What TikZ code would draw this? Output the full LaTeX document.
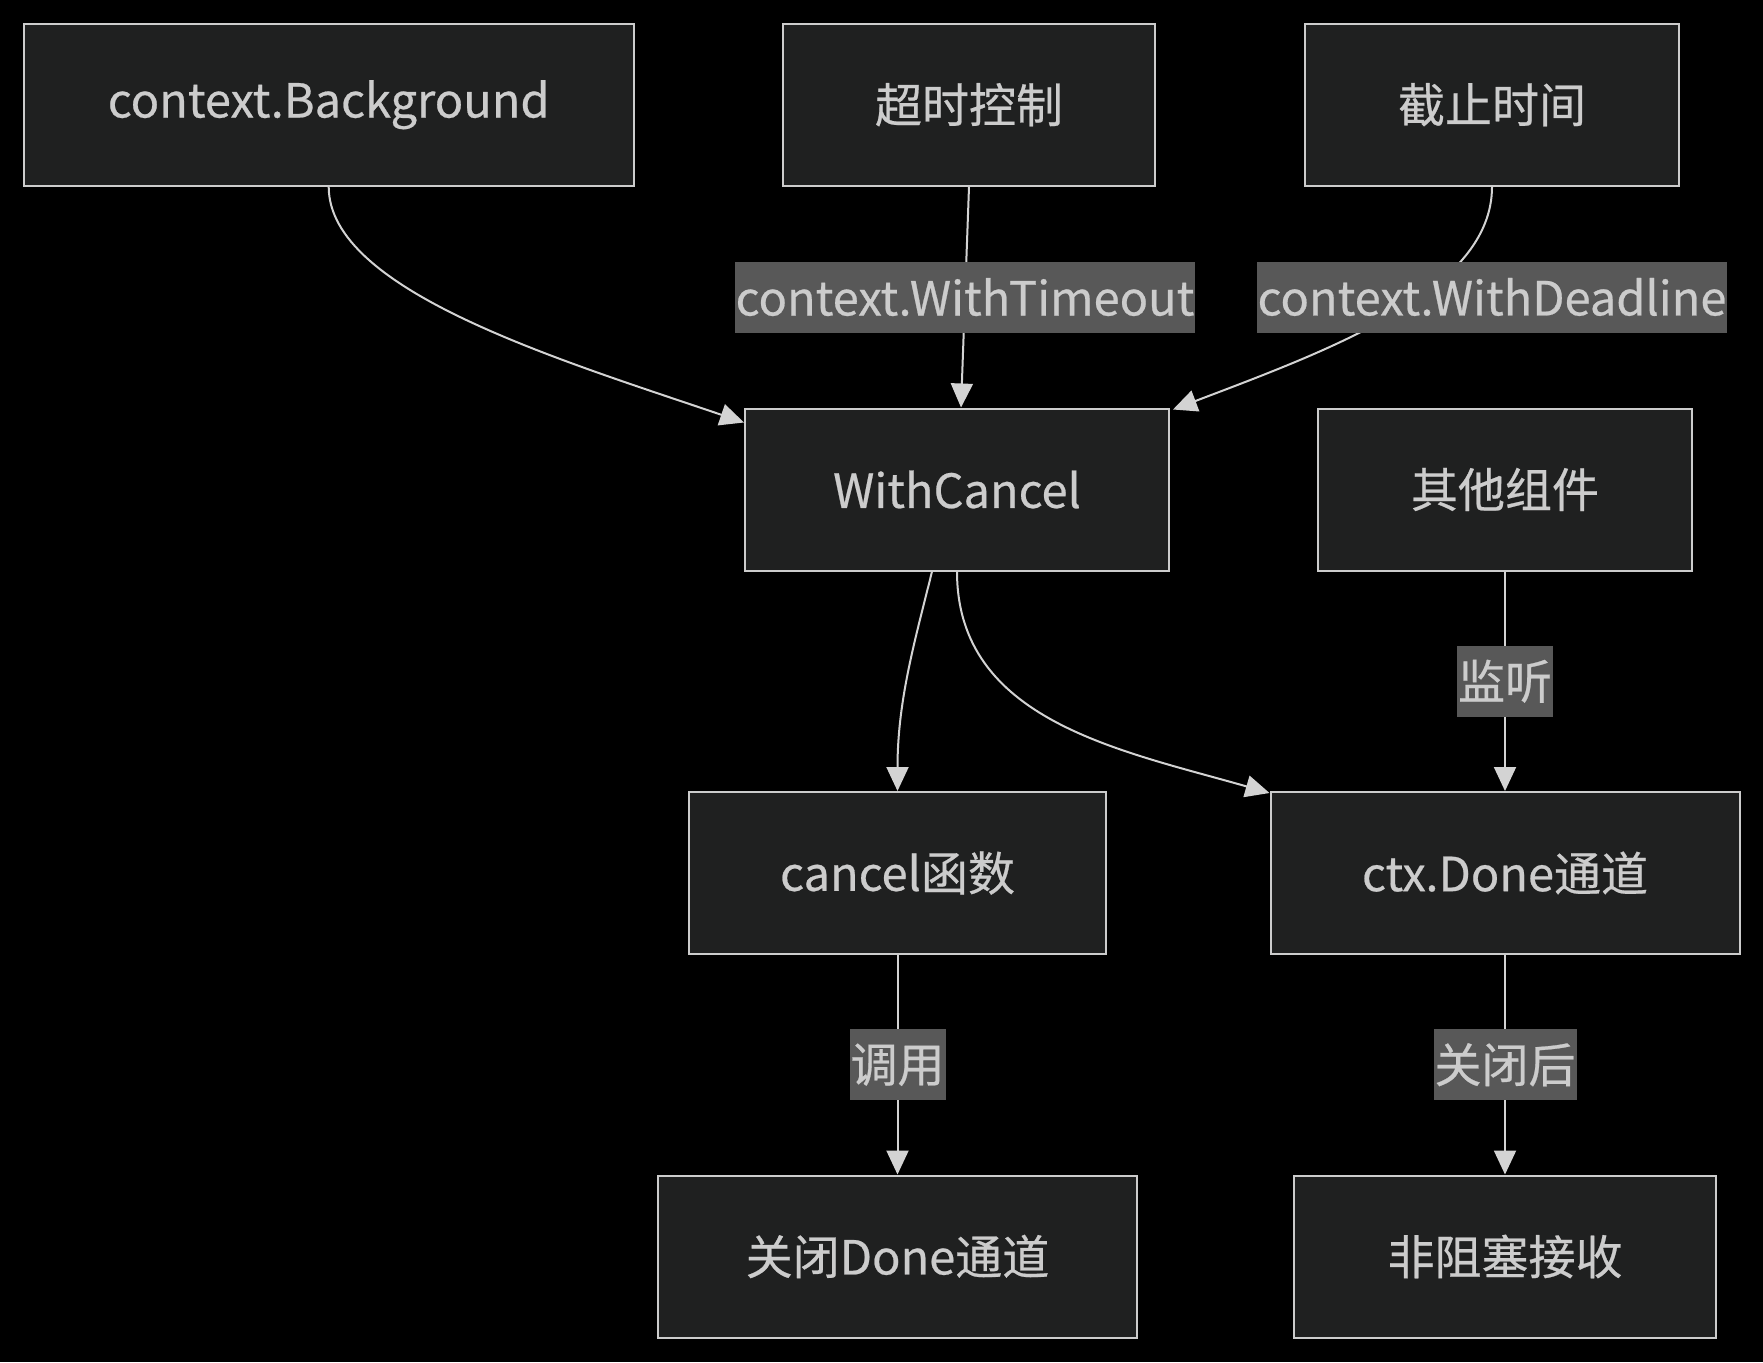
\documentclass[tikz,border=0pt]{standalone}
\usepackage{fontspec}
\setmainfont{Noto Sans CJK SC}[FakeBold=0.5]
\usetikzlibrary{arrows.meta,calc}
\definecolor{bgc}{HTML}{000000}
\definecolor{nodefill}{HTML}{1F2020}
\definecolor{nodeline}{HTML}{CCCCCC}
\definecolor{txt}{HTML}{CCCCCC}
\definecolor{lblfill}{HTML}{585858}
\definecolor{edgec}{HTML}{D3D3D3}
\begin{document}
\begin{tikzpicture}[x=1pt,y=-1pt,
  box/.style={draw=nodeline, line width=2pt, fill=nodefill, text=txt,
    minimum height=162pt, inner sep=0pt, font=\fontsize{47}{52}\selectfont},
  lbl/.style={fill=lblfill, text=txt, inner xsep=1pt, inner ysep=0pt,
    minimum height=71pt, font=\fontsize{47}{52}\selectfont},
  conn/.style={draw=edgec, line width=2pt, -{Triangle[length=24pt,width=22pt]}}]
\fill[bgc] (0,0) rectangle (1763,1362);
\useasboundingbox (0,0) rectangle (1763,1362);

\node[box, minimum width=610pt] (bg) at (328.7,104.7) {context.Background};
\node[box, minimum width=372pt] (to) at (969,104.7) {超时控制};
\node[box, minimum width=374pt] (dl) at (1492,104.7) {截止时间};
\node[box, minimum width=424pt] (wc) at (957,489.5) {WithCancel};
\node[box, minimum width=374pt] (ot) at (1505,489.5) {其他组件};
\node[box, minimum width=417pt] (cf) at (897.5,873) {cancel函数};
\node[box, minimum width=469pt] (cd) at (1505,873) {ctx.Done通道};
\node[box, minimum width=479pt] (cl) at (897.5,1256.5) {关闭Done通道};
\node[box, minimum width=422pt] (nb) at (1505,1256.5) {非阻塞接收};

\draw[conn] (bg.south) .. controls +(0,104) and +(-185,-63) .. ($(wc.north west)+(0,15)$);
\draw[conn] (to.south) -- node[lbl] (lto) {context.WithTimeout} ($(wc.north)+(4,0)$);
\draw[conn] (dl.south) .. controls +(0,104) and +(158,-60) .. ($(wc.north east)+(3,2)$);
\node[lbl] (ldl) at (1492,297) {context.WithDeadline};
\draw[conn] ($(wc.south)+(-25,0)$) .. controls +(-17,69) and +(0,-91) .. (cf.north);
\draw[conn] (wc.south) .. controls +(0,149) and +(-150,-43) .. ($(cd.north west)+(0,2)$);
\draw[conn] (ot.south) -- node[lbl] (lot) {监听} (cd.north);
\draw[conn] (cf.south) -- node[lbl] (lcf) {调用} (cl.north);
\draw[conn] (cd.south) -- node[lbl] (lcd) {关闭后} (nb.north);
\end{tikzpicture}
\end{document}
